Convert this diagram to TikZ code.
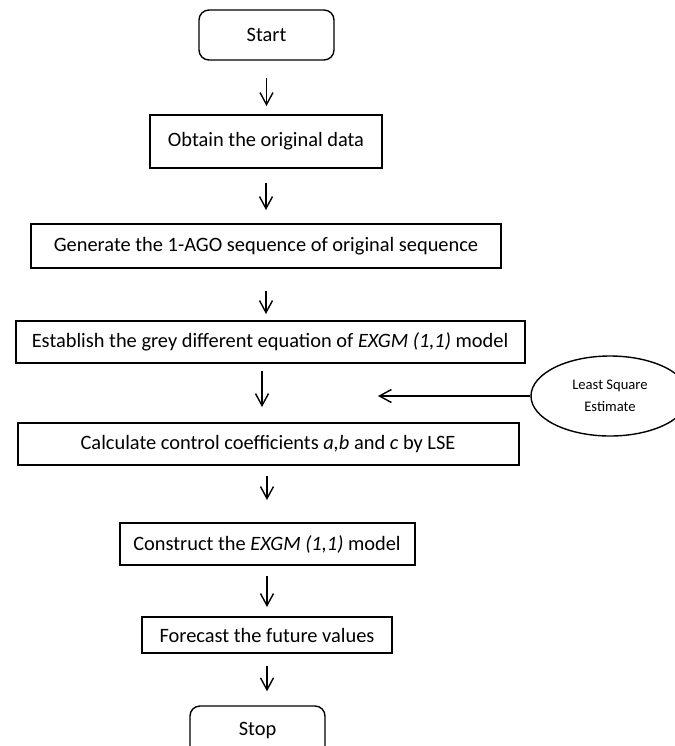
\documentclass[tikz,border=0pt]{standalone}
\usepackage{fontspec}
\setmainfont{Carlito}
\usetikzlibrary{arrows.meta,shapes.geometric}

\tikzset{
  termbox/.style={draw, line width=0.7pt, rounded corners=5pt, inner sep=0pt,
    minimum width=67.5pt, minimum height=25pt, font=\fontsize{10.2}{12}\selectfont},
  stepbox/.style={draw, line width=1pt, inner sep=0pt, minimum height=21pt,
    font=\fontsize{10.2}{12}\selectfont},
  notebox/.style={draw, ellipse, line width=0.7pt, inner sep=0pt, align=center,
    minimum width=79pt, minimum height=40pt, font=\fontsize{7.3}{10.8}\selectfont},
  flowarrow/.style={line width=0.7pt, -{Straight Barb[length=6pt,width=6.5pt]},
    shorten <=7pt, shorten >=4pt}
}

\begin{document}
\begin{tikzpicture}[x=0.5pt,y=-0.5pt]
\useasboundingbox (0,0) rectangle (675,746);
\node[termbox] (start) at (266.5,35) {Start};
\node[stepbox, minimum width=116pt, minimum height=26.5pt] (obtain) at (266,141.5) {Obtain the original data};
\node[stepbox, minimum width=235pt, minimum height=22pt] (ago) at (266,246) {Generate the 1-AGO sequence of original sequence};
\node[stepbox, minimum width=254.5pt] (equation) at (270,342) {Establish the grey different equation of \textit{EXGM (1,1)} model};
\node[stepbox, minimum width=250.5pt] (coeff) at (268,444) {Calculate control coefficients \textit{a,b} and \textit{c} by LSE};
\node[stepbox, minimum width=147.5pt] (model) at (267,544) {Construct the \textit{EXGM (1,1)} model};
\node[stepbox, minimum width=125pt, minimum height=18pt] (forecast) at (267,635) {Forecast the future values};
\node[termbox] (stop) at (257.5,731) {Stop};
\node[notebox] (lse) at (610,396) {Least Square\\Estimate};
\coordinate (lsetip) at (378,396);

\draw[flowarrow, shorten <=8.5pt] (start) -- (start |- obtain.north);
\draw[flowarrow, shorten >=6.5pt] (obtain) -- (obtain |- ago.north);
\draw[flowarrow, shorten <=11pt, shorten >=3pt] (ago) -- (ago |- equation.north);
\draw[flowarrow, shorten <=3.5pt, shorten >=7.5pt] ([xshift=-4pt]equation.south) -- ([xshift=-4pt]equation.south |- coeff.north);
\draw[flowarrow, shorten <=5pt, shorten >=11pt] (model |- coeff.south) -- (model.north);
\draw[flowarrow, shorten <=5pt, shorten >=4.5pt] (model) -- (model |- forecast.north);
\draw[flowarrow, shorten <=6pt, shorten >=7pt] (forecast.south) -- (forecast.south |- stop.north);
\draw[flowarrow, shorten <=0pt, shorten >=0pt] (lse.west) -- (lsetip);
\end{tikzpicture}
\end{document}
